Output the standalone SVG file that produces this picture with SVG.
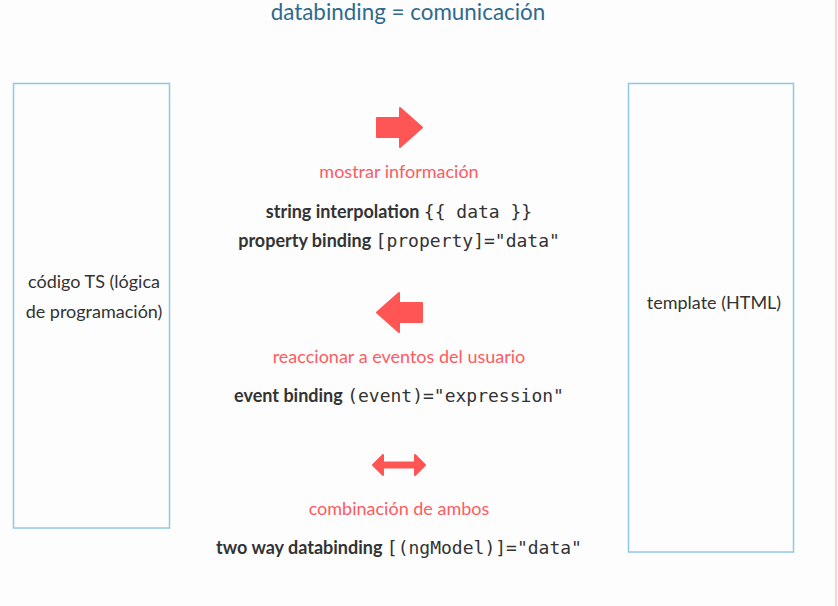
<svg xmlns="http://www.w3.org/2000/svg" width="838" height="606" viewBox="0 0 838 606">
<style>
.t{font-family:Lato,"Liberation Sans",sans-serif;font-size:18px;fill:#333;text-anchor:middle}
.r{font-family:Lato,"Liberation Sans",sans-serif;font-size:18px;fill:#ff5a5f;text-anchor:middle}
.b{font-weight:bold}
.m{font-family:"DejaVu Sans Mono","Liberation Mono",monospace;font-size:18px;font-weight:normal}
.box{fill:none;stroke:#8ec8e8;stroke-width:1.5}
.arr{fill:#ff5555;stroke:#ff5555;stroke-width:2;stroke-linejoin:round}
</style>
<rect width="838" height="606" fill="#fdfdfd"/>
<line x1="836" y1="0" x2="836" y2="606" stroke="#ffd0d8" stroke-width="2"/>
<text x="408" y="20" style="font-family:Lato,'Liberation Sans',sans-serif;font-size:22.4px;fill:#2f6a8d;text-anchor:middle">databinding = comunicación</text>
<g id="node-ts">
<rect class="box" x="13.5" y="83.5" width="156" height="444.5"/>
<text class="t" x="94" y="288">código TS (lógica</text>
<text class="t" x="94" y="318">de programación)</text>
</g>
<g id="node-html">
<rect class="box" x="628.5" y="83.5" width="165" height="468.5"/>
<text class="t" x="714" y="309">template (HTML)</text>
</g>
<g id="connectors">
<path class="arr" d="M377 118 H400 V108 L422 127.5 L400 147 V137 H377 Z"/>
<path class="arr" d="M422 303 H399 V293 L377 312.5 L399 332 V322 H422 Z"/>
<path class="arr" d="M373 465 L383 455 V462.5 H415 V455 L425 465 L415 475 V467.5 H383 V475 Z"/>
</g>
<g id="labels">
<text class="r" x="399" y="178">mostrar información</text>
<text class="t b" x="399" y="218">string interpolation <tspan class="m">{{ data }}</tspan></text>
<text class="t b" x="399" y="247">property binding <tspan class="m">[property]="data"</tspan></text>
<text class="r" x="399" y="363">reaccionar a eventos del usuario</text>
<text class="t b" x="399" y="402">event binding <tspan class="m">(event)="expression"</tspan></text>
<text class="r" x="399" y="515">combinación de ambos</text>
<text class="t b" x="399" y="554">two way databinding <tspan class="m">[(ngModel)]="data"</tspan></text>
</g>
</svg>
